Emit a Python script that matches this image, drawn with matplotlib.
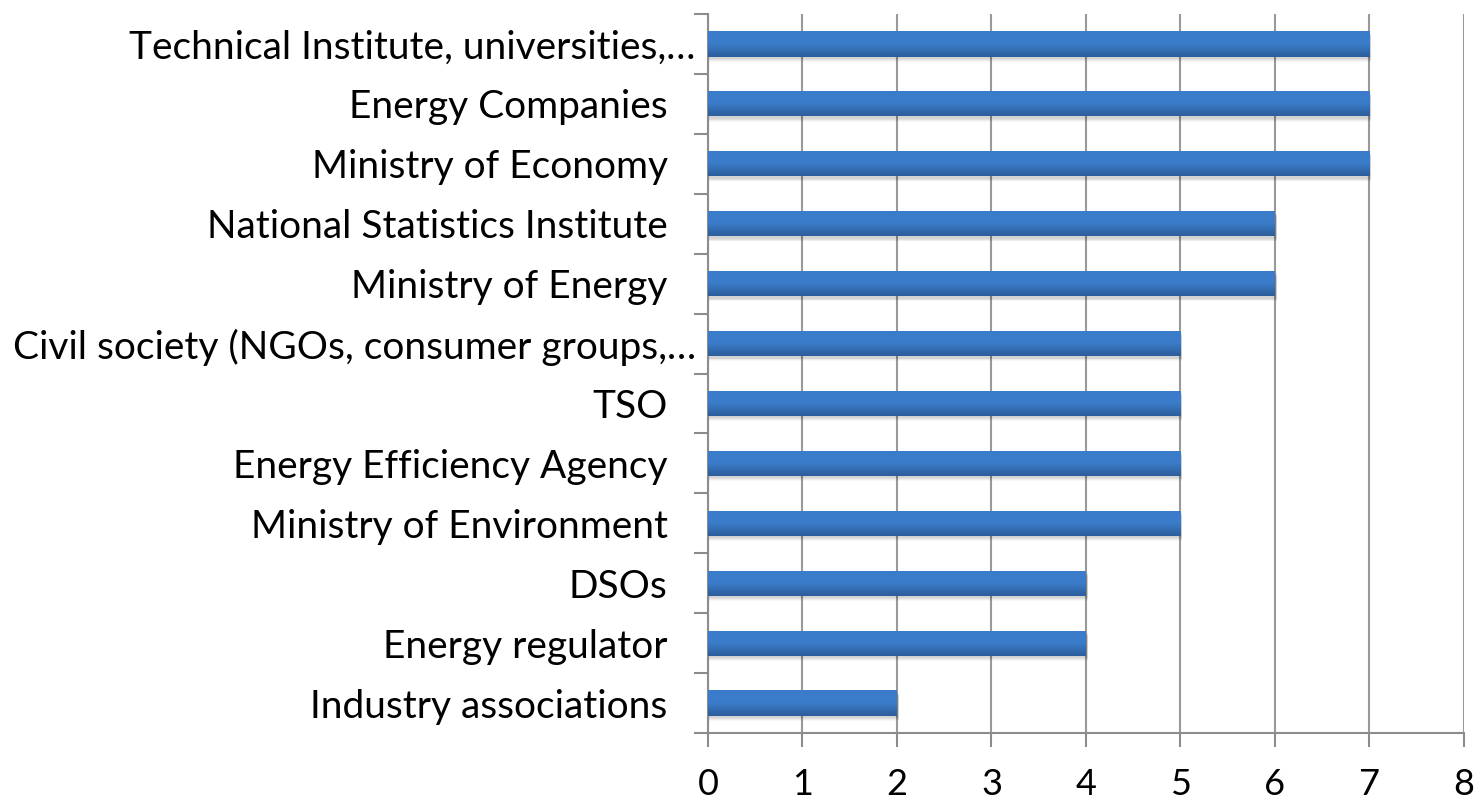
import numpy as np
import matplotlib.pyplot as plt
import matplotlib.transforms as mtransforms
from matplotlib.colors import LinearSegmentedColormap

plt.rcParams['font.family'] = ['Lato', 'DejaVu Sans']

categories = ['Industry associations', 'Energy regulator', 'DSOs',
              'Ministry of Environment', 'Energy Efficiency Agency', 'TSO',
              'Civil society (NGOs, consumer groups,…',
              'Ministry of Energy', 'National Statistics Institute',
              'Ministry of Economy', 'Energy Companies',
              'Technical Institute, universities,…']
values = [2, 4, 4, 5, 5, 5, 5, 6, 6, 7, 7, 7]
x_ticks = [0, 1, 2, 3, 4, 5, 6, 7, 8]

fig = plt.figure(figsize=(14.75, 8.05), dpi=100)
ax = fig.add_axes([0.48, 0.0894, 0.5125, 0.8932])

y = np.arange(len(categories))
bar_h = 0.42

# soft shadow under each bar
for yi, v in zip(y, values):
    for k, a in enumerate([0.06, 0.05, 0.04, 0.03]):
        ax.barh(yi - 0.04 - k * 0.015, v + 0.02, height=bar_h, left=0,
                color='black', alpha=a, zorder=2, linewidth=0)

bars = ax.barh(y, values, height=bar_h, color='#3470ba', zorder=3)

# vertical gradient inside each bar
grad = np.linspace(0, 1, 64).reshape(-1, 1)
cmap = LinearSegmentedColormap.from_list('g', ['#2c5d9b', '#3a7cc9', '#3b7dcb'])
for b in bars:
    x0, y0 = b.get_x(), b.get_y()
    w, h = b.get_width(), b.get_height()
    im = ax.imshow(grad, extent=[x0, x0 + w, y0, y0 + h], origin='lower',
                   cmap=cmap, aspect='auto', zorder=4)
    im.set_clip_path(b)

ax.set_xlim(0, 8)
ax.set_ylim(-0.5, len(categories) - 0.5)
ax.set_xticks(x_ticks)
ax.set_xticklabels([str(t) for t in x_ticks], fontsize=26)
ax.set_yticks(y)
ax.set_yticklabels(categories, fontsize=28)
ax.set_yticks(np.arange(-0.5, len(categories), 1), minor=True)

ax.tick_params(axis='y', which='major', length=0, pad=29)
ax.tick_params(axis='y', which='minor', length=10, width=1.5, color='#8c8c8c')
ax.tick_params(axis='x', which='major', length=10, width=1.5, color='#8c8c8c', pad=15)

# truncated labels sit closer to the axis
shift = mtransforms.ScaledTranslation(28 / 100, 0, fig.dpi_scale_trans)
for lab in ax.get_yticklabels():
    if lab.get_text().endswith('…'):
        lab.set_transform(lab.get_transform() + shift)

ax.grid(axis='x', color='#999999', linewidth=1.5, zorder=0)
ax.set_axisbelow(True)
for s in ['top', 'right']:
    ax.spines[s].set_visible(False)
for s in ['left', 'bottom']:
    ax.spines[s].set_color('#8c8c8c')
    ax.spines[s].set_linewidth(1.5)

fig.savefig('out.png', dpi=100)
